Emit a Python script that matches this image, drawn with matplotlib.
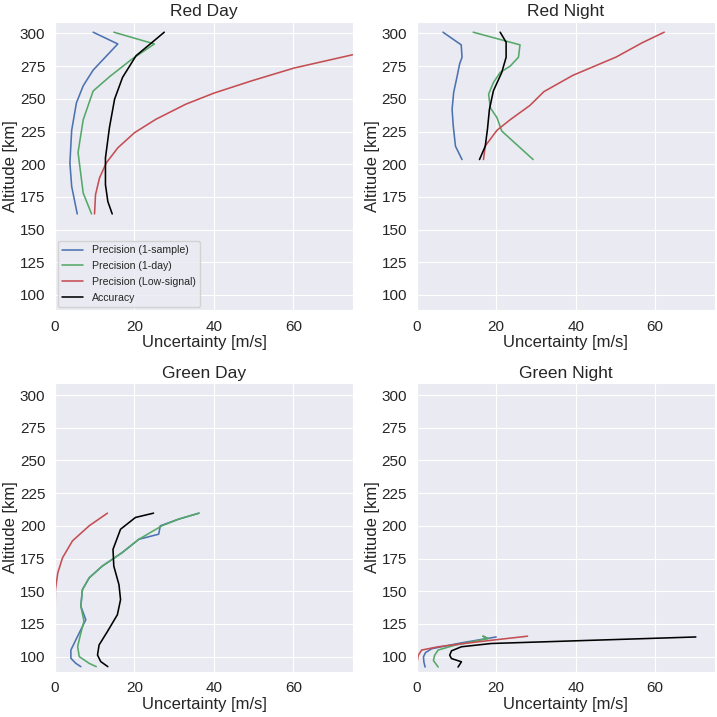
import numpy as np
import matplotlib
matplotlib.use('Agg')
import matplotlib.pyplot as plt
import seaborn as sns

sns.set_style('darkgrid')
plt.rcParams['font.family'] = ['Liberation Sans', 'DejaVu Sans']

labels = ['Precision (1-sample)', 'Precision (1-day)', 'Precision (Low-signal)', 'Accuracy']
colors = ['#4C72B0', '#55A868', '#C44E52', 'black']

# Red Day
rd_alt_blue = [301, 292, 272, 260, 247, 226, 201, 183, 162]
rd_blue = [9.6, 15.8, 9.6, 7.1, 5.4, 4.2, 3.75, 4.2, 5.6]
rd_alt_green = [301, 292, 280, 267, 256, 234, 209, 178, 162]
rd_green = [14.8, 25.0, 19.2, 13.75, 9.6, 7.1, 5.8, 7.1, 9.2]
rd_alt_red = [300, 283.8, 273.6, 263.8, 254.4, 245.9, 234.4, 224.1, 212.5, 201, 189.5, 176.7, 162]
rd_red = [99.0, 75.0, 60.2, 49.5, 40.0, 32.9, 25.4, 20.0, 15.8, 12.9, 11.2, 10.2, 9.95]
rd_alt_black = [301, 294.6, 283, 266.4, 249.8, 228, 204.8, 184.4, 171.5, 162]
rd_black = [27.5, 25.0, 20.4, 17.0, 15.0, 13.7, 12.7, 12.7, 13.3, 14.4]

# Red Night
rn_alt_blue = [301, 291.3, 281.8, 276.7, 267.7, 254.9, 242, 229.2, 213.8, 203.6]
rn_blue = [6.6, 11.2, 11.4, 10.8, 10.2, 9.3, 8.9, 9.2, 9.75, 11.4]
rn_alt_green = [301, 291.3, 281.8, 275, 270.2, 262.5, 253.6, 243.3, 235.6, 225.4, 203.6]
rn_green = [14.2, 26.0, 25.6, 23.5, 21.0, 19.3, 18.1, 18.5, 20.2, 21.4, 29.3]
rn_alt_red = [301, 293, 282, 268, 255.5, 245, 234, 226, 214, 203.6]
rn_red = [62.3, 56.8, 50.2, 39.3, 32.0, 28.5, 23.5, 20.2, 17.25, 16.8]
rn_alt_black = [301, 293.3, 281.8, 270.2, 256.2, 242, 226.7, 213.8, 203.6]
rn_black = [21.0, 22.5, 22.5, 21.4, 19.3, 18.3, 17.8, 17.25, 15.8]

# Green Day
gd_alt_blue = [209.7, 205.1, 200, 193.6, 189.7, 179.5, 169.2, 160.2, 151.2, 138.5, 128.2, 112.8, 105, 98.7, 94.8, 92.3]
gd_blue = [36.25, 31.1, 26.5, 26.1, 21.1, 16.9, 11.9, 8.6, 6.9, 6.5, 7.75, 5.25, 4.0, 4.0, 5.25, 6.5]
gd_alt_green = [209.7, 205.1, 200, 189.7, 179.5, 169.2, 160.2, 151.2, 138.5, 127, 118, 107.7, 100, 94.8, 92.3]
gd_green = [36.25, 31.1, 26.9, 21.1, 16.9, 11.9, 8.6, 6.9, 6.5, 7.3, 6.5, 5.7, 6.1, 8.6, 10.4]
gd_alt_red = [209.7, 200, 188.5, 175.6, 164, 151, 130, 110, 92.3]
gd_red = [13.2, 8.6, 4.4, 1.9, 0.7, 0.1, 0.0, 0.0, 0.0]
gd_alt_black = [209.7, 206.4, 197.4, 182, 169.2, 155, 143.5, 132, 119.2, 108.9, 101.2, 96.2, 92.3]
gd_black = [24.8, 20.25, 16.5, 14.6, 14.8, 16.1, 16.5, 15.7, 13.2, 11.1, 10.7, 11.5, 13.3]

# Green Night
gn_alt_blue = [115, 110.5, 106, 103, 99.8, 96, 92]
gn_blue = [20.0, 11.25, 3.75, 2.2, 1.7, 1.8, 2.1]
gn_alt_green = [113.8, 115.6, 113.8, 108.7, 105, 101, 97, 92]
gn_green = [17.9, 16.7, 17.9, 9.6, 5.4, 4.5, 4.2, 5.4]
gn_alt_red = [115.6, 111.3, 107.5, 105, 101, 96, 91]
gn_red = [27.9, 15.4, 5.4, 1.25, 0.4, 0.1, 0.0]
gn_alt_black = [115, 110, 107.5, 104.4, 101, 98.5, 96, 92]
gn_black = [70.25, 18.75, 11.25, 8.75, 8.3, 8.75, 11.25, 10.4]

panels = [
    ('Red Day', [(rd_blue, rd_alt_blue), (rd_green, rd_alt_green), (rd_red, rd_alt_red), (rd_black, rd_alt_black)]),
    ('Red Night', [(rn_blue, rn_alt_blue), (rn_green, rn_alt_green), (rn_red, rn_alt_red), (rn_black, rn_alt_black)]),
    ('Green Day', [(gd_blue, gd_alt_blue), (gd_green, gd_alt_green), (gd_red, gd_alt_red), (gd_black, gd_alt_black)]),
    ('Green Night', [(gn_blue, gn_alt_blue), (gn_green, gn_alt_green), (gn_red, gn_alt_red), (gn_black, gn_alt_black)]),
]

fig = plt.figure(figsize=(7.17, 7.17), dpi=100)
positions = [
    [0.0767, 0.5676, 0.4156, 0.4021],
    [0.5812, 0.5676, 0.4156, 0.4021],
    [0.0767, 0.0633, 0.4156, 0.4021],
    [0.5812, 0.0633, 0.4156, 0.4021],
]

for i, (title, series) in enumerate(panels):
    ax = fig.add_axes(positions[i])
    for (x, y), c, lab in zip(series, colors, labels):
        ax.plot(x, y, color=c, lw=1.15, label=lab)
    ax.set_xlim(0, 75)
    ax.set_ylim(88.5, 309)
    ax.set_yticks(np.arange(100, 301, 25))
    ax.set_xticks([0, 20, 40, 60])
    ax.set_title(title, fontsize=12.5, pad=4)
    ax.set_xlabel('Uncertainty [m/s]', fontsize=12, labelpad=1)
    ax.set_ylabel('Altitude [km]', fontsize=12, labelpad=1)
    ax.tick_params(labelsize=11)
    if i == 0:
        ax.legend(loc='lower left', fontsize=7.6, labelspacing=0.55, borderaxespad=0.3)

fig.savefig('out.png', dpi=100)
